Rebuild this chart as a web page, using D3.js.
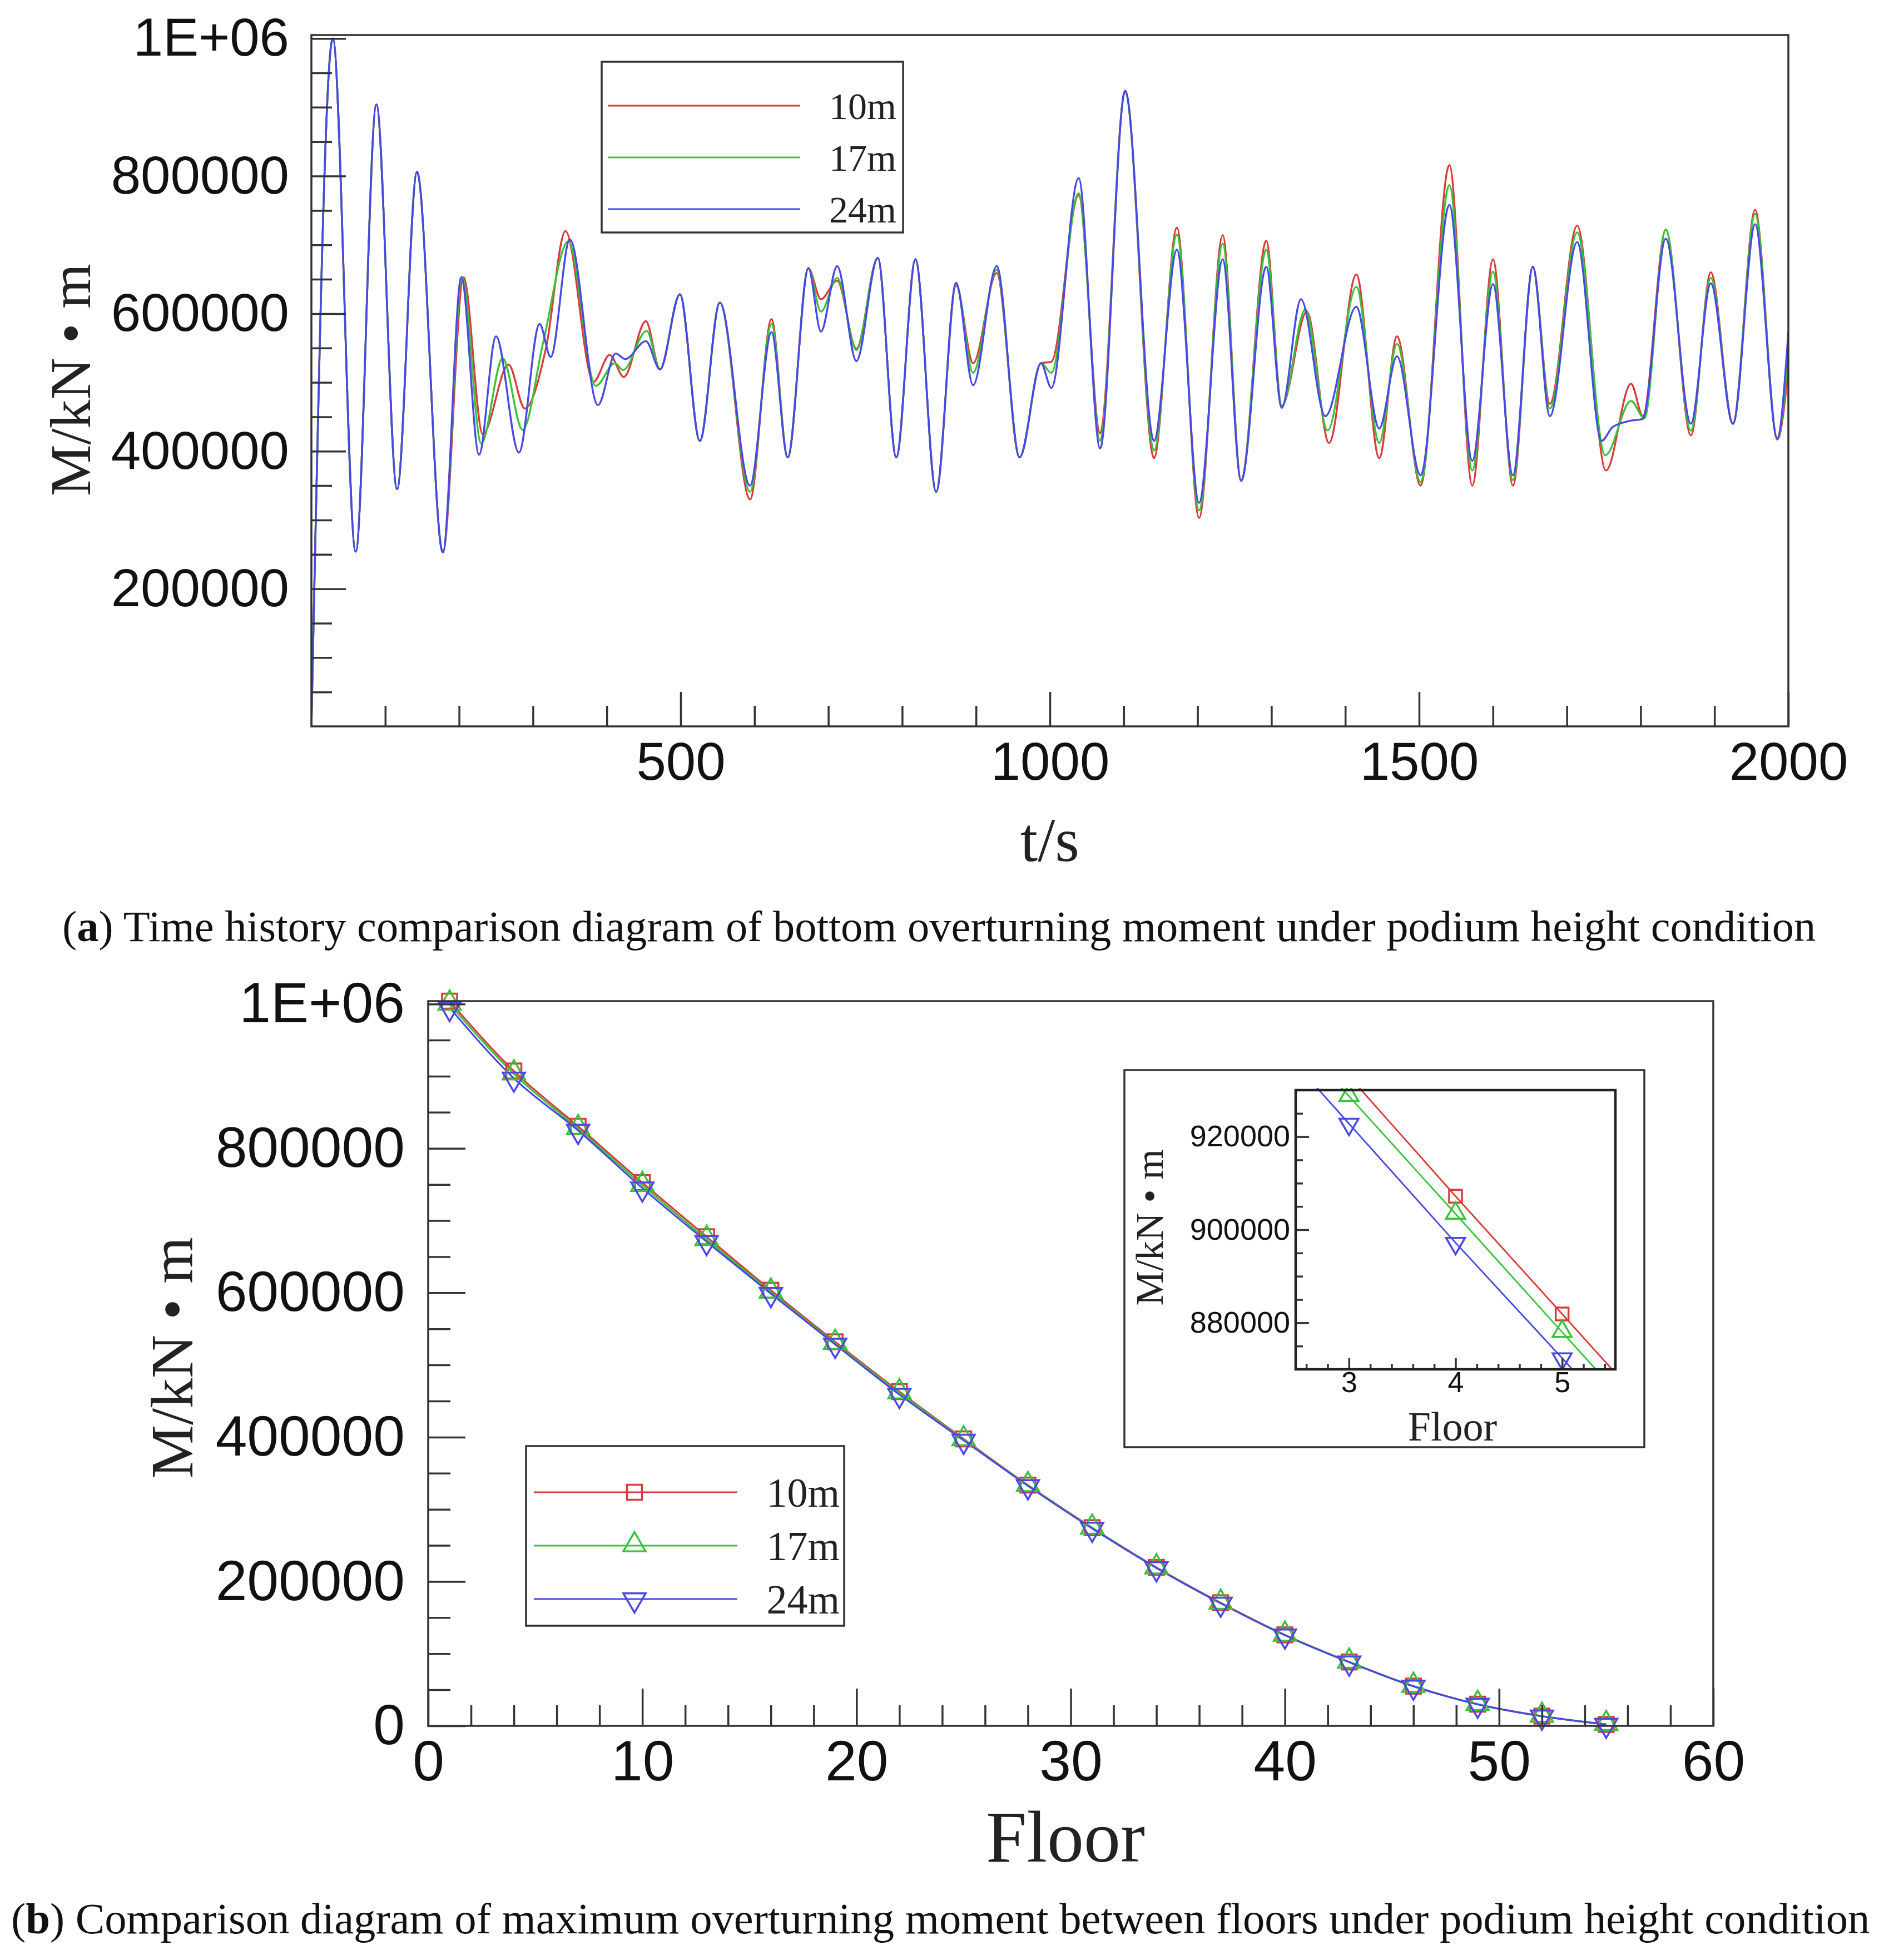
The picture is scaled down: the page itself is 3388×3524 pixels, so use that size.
<!DOCTYPE html>
<html>
<head>
<meta charset="utf-8">
<script src="https://cdn.jsdelivr.net/npm/d3@7"></script>
<style>body{margin:0;background:#fff}</style>
</head>
<body>
<script>
const W = 3388, H = 3524;

// ---- data: panel (a), time history extrema [t, M] ----
const hist10m = [[0,0],[29,1000000],[60,254000],[88,904000],[116,345000],[143,806000],[178,253000],[206,653000],
  [232,425000],[267,526000],[289,462000],[318,552000],[344,720000],[382,501000],[404,540000],[423,508000],[453,589000],[472,519000],[499,628000],
  [526,415000],[553,616000],[594,330000],[623,592000],[645,391000],[673,666000],[690,621000],[712,648000],[738,549000],
  [767,681000],[792,391000],[818,679000],[846,341000],[873,641000],[896,528000],[928,659000],[959,391000],[988,528000],[1002,530000],
  [1039,772000],[1068,426000],[1102,924000],[1141,390000],[1172,725000],[1202,303000],[1234,714000],[1259,357000],[1293,706000],[1314,466000],
  [1348,603000],[1378,412000],[1415,657000],[1446,390000],[1470,567000],[1502,350000],[1541,816000],[1572,350000],[1600,679000],[1627,350000],
  [1654,668000],[1677,469000],[1714,728000],[1753,372000],[1787,498000],[1803,451000],[1834,722000],[1868,423000],[1895,660000],[1925,440000],
  [1955,751000],[1985,417000],[2000,520000]];
const hist17m = [[0,0],[29,1000000],[60,254000],[88,904000],[116,345000],[143,806000],[178,253000],[204,653000],
  [230,411000],[259,535000],[286,431000],[314,559000],[348,705000],[385,495000],[411,528000],[422,518000],[454,575000],[472,519000],[499,628000],
  [526,415000],[553,616000],[594,341000],[623,585000],[645,391000],[673,666000],[690,603000],[712,652000],[738,547000],
  [767,681000],[792,391000],[818,679000],[846,341000],[873,643000],[896,514000],[928,664000],[959,391000],[988,528000],[1002,514000],
  [1039,775000],[1068,415000],[1102,924000],[1141,401000],[1172,715000],[1202,314000],[1234,702000],[1259,357000],[1293,693000],[1314,466000],
  [1346,606000],[1376,430000],[1415,639000],[1446,412000],[1470,556000],[1502,355000],[1541,787000],[1572,372000],[1600,661000],[1627,358000],
  [1654,668000],[1677,462000],[1714,718000],[1752,394000],[1787,473000],[1805,448000],[1834,722000],[1868,430000],[1895,652000],[1925,440000],
  [1955,745000],[1985,419000],[2000,545000]];
const hist24m = [[0,0],[29,1000000],[60,254000],[88,904000],[116,345000],[143,806000],[178,253000],[203,653000],
  [227,395000],[250,567000],[281,398000],[309,585000],[324,537000],[350,708000],[388,467000],[412,542000],[425,534000],[453,560000],[472,519000],[499,628000],
  [526,415000],[553,616000],[594,350000],[623,573000],[645,391000],[673,666000],[690,574000],[712,669000],[738,531000],
  [767,681000],[792,391000],[818,679000],[846,341000],[873,645000],[896,496000],[928,669000],[959,391000],[988,528000],[1002,492000],
  [1039,797000],[1068,404000],[1102,924000],[1141,415000],[1172,693000],[1202,325000],[1234,679000],[1259,357000],[1293,668000],[1314,463000],
  [1340,621000],[1373,451000],[1415,610000],[1446,433000],[1470,538000],[1502,365000],[1541,758000],[1572,386000],[1600,643000],[1627,365000],
  [1654,668000],[1677,451000],[1714,704000],[1747,415000],[1762,435000],[1785,444000],[1803,447000],[1834,709000],[1868,440000],[1895,644000],[1925,440000],
  [1955,730000],[1985,419000],[2000,574000]];

// ---- data: panel (b), max moment per floor ----
const floors = [1,4,7,10,13,16,19,22,25,28,31,34,37,40,43,46,49,52,55];
const moment10m = [1004000,907200,830600,752600,677600,603500,532000,463000,397500,333500,274500,219500,170500,126000,88500,55000,30000,13500,2000];
const moment17m = [1000000,903400,827500,749000,674000,601000,530000,461500,396500,333000,274000,219000,170000,125800,88300,54900,29900,13400,2000];
const moment24m = [995000,897200,824800,745000,670800,598700,528400,459000,395500,332500,273500,218800,169800,125600,88200,54800,29800,13300,2000];

// inset (floors 2..6)
const insetFloors = [2,3,4,5,6];
const inset10m = [958500,933000,907200,881900,856500];
const inset17m = [954000,928700,903400,878000,852700];
const inset24m = [948500,922800,897200,872400,847600];

const seriesNames = ['10m','17m','24m'];
const colors = ['#dc3a3a','#38c438','#4848e4'];
const markers = ['square','up','down'];

const axisColor = '#333';
const sansFont = 'Liberation Sans, Arial, sans-serif';
const serifFont = 'Liberation Serif, Times New Roman, serif';
const plain = d3.format('d');

const svg = d3.select('body').append('svg')
  .attr('width', W).attr('height', H)
  .style('background', '#fff');

function styleAxis(g, fontSize) {
  g.select('.domain').remove();
  g.selectAll('line').attr('stroke', axisColor).attr('stroke-width', 3.5);
  g.selectAll('text').attr('font-size', fontSize).attr('font-family', sansFont).attr('fill', '#111');
  g.attr('font-size', null).attr('font-family', null);
}

function marker(g, type, cx, cy, color, s) {
  if (type === 'square') {
    g.append('rect').attr('x', cx - s / 2).attr('y', cy - s / 2).attr('width', s).attr('height', s)
      .attr('fill', 'none').attr('stroke', color).attr('stroke-width', 3.5);
  } else {
    const sym = d3.symbol().type(d3.symbolTriangle).size(s * s * 0.95);
    g.append('path').attr('d', sym())
      .attr('transform', `translate(${cx},${cy + (type === 'up' ? -1 : 1) * s * 0.05}) rotate(${type === 'up' ? 0 : 180})`)
      .attr('fill', 'none').attr('stroke', color).attr('stroke-width', 3.5);
  }
}

// caption sized to span a given width
function caption(x, y, letter, rest, width) {
  const t = svg.append('text').attr('x', x).attr('y', y)
    .attr('font-family', serifFont).attr('font-size', 80).attr('fill', '#111');
  t.append('tspan').text('(');
  t.append('tspan').attr('font-weight', 'bold').text(letter);
  t.append('tspan').text(') ' + rest);
  const len = t.node().getComputedTextLength();
  t.attr('font-size', 80 * width / len);
}

// =================== panel (a) ===================
const A = { left: 560, right: 3216, top: 63, bottom: 1306 };
const xA = d3.scaleLinear().domain([0, 2000]).range([A.left, A.right]);
const yA = d3.scaleLinear().domain([0, 1005000]).range([A.bottom, A.top]);

svg.append('clipPath').attr('id', 'clipA').append('rect')
  .attr('x', A.left).attr('y', A.top).attr('width', A.right - A.left).attr('height', A.bottom - A.top);

const lineA = d3.line().x(d => xA(d[0])).y(d => yA(d[1])).curve(d3.curveMonotoneX);
const gA = svg.append('g').attr('clip-path', 'url(#clipA)');
[hist10m, hist17m, hist24m].forEach((s, i) => {
  gA.append('path').attr('d', lineA(s)).attr('fill', 'none')
    .attr('stroke', colors[i]).attr('stroke-width', 3.4);
});

// y axis (ticks inward)
svg.append('g').attr('transform', `translate(${A.left},0)`)
  .call(d3.axisLeft(yA).tickValues(d3.range(50000, 1000001, 50000).filter(v => v % 200000 !== 0)).tickSize(-37).tickFormat(''))
  .call(g => styleAxis(g, 96));
svg.append('g').attr('transform', `translate(${A.left},0)`)
  .call(d3.axisLeft(yA).tickValues([200000, 400000, 600000, 800000, 1000000]).tickSize(-62).tickPadding(40)
    .tickFormat(d => d === 1000000 ? '1E+06' : plain(d)))
  .call(g => styleAxis(g, 96));
// x axis
svg.append('g').attr('transform', `translate(0,${A.bottom})`)
  .call(d3.axisBottom(xA).tickValues(d3.range(100, 2000, 100).filter(v => v % 500 !== 0)).tickSize(-37).tickFormat(''))
  .call(g => styleAxis(g, 96));
svg.append('g').attr('transform', `translate(0,${A.bottom})`)
  .call(d3.axisBottom(xA).tickValues([500, 1000, 1500, 2000]).tickSize(-62).tickPadding(28).tickFormat(plain))
  .call(g => styleAxis(g, 96));

svg.append('rect').attr('x', A.left).attr('y', A.top).attr('width', A.right - A.left).attr('height', A.bottom - A.top)
  .attr('fill', 'none').attr('stroke', axisColor).attr('stroke-width', 3.5);

svg.append('text').attr('transform', `translate(126,683) rotate(-90)`)
  .attr('text-anchor', 'middle').attr('dominant-baseline', 'central')
  .attr('font-family', serifFont).attr('font-size', 104).attr('fill', '#222').text('M/kN • m');
svg.append('text').attr('x', 1888).attr('y', 1548).attr('text-anchor', 'middle')
  .attr('font-family', serifFont).attr('font-size', 112).attr('fill', '#222').text('t/s');

// legend (a)
const legA = svg.append('g');
legA.append('rect').attr('x', 1082).attr('y', 111).attr('width', 542).attr('height', 307)
  .attr('fill', '#fff').attr('stroke', axisColor).attr('stroke-width', 3.5);
seriesNames.forEach((n, i) => {
  const yy = 190 + i * 93;
  legA.append('line').attr('x1', 1093).attr('x2', 1439).attr('y1', yy).attr('y2', yy)
    .attr('stroke', colors[i]).attr('stroke-width', 3.2);
  legA.append('text').attr('x', 1612).attr('y', yy).attr('dy', '0.35em').attr('text-anchor', 'end')
    .attr('font-family', serifFont).attr('font-size', 68).attr('fill', '#222').text(n);
});

caption(112, 1692, 'a', 'Time history comparison diagram of bottom overturning moment under podium height condition', 3154);

// =================== panel (b) ===================
const B = { left: 770, right: 3081, top: 1800, bottom: 3103 };
const xB = d3.scaleLinear().domain([0, 60]).range([B.left, B.right]);
const yB = d3.scaleLinear().domain([0, 1004000]).range([B.bottom, B.top]);

const lineB = d3.line().x(d => xB(d[0])).y(d => yB(d[1])).curve(d3.curveMonotoneX);
const gB = svg.append('g');
[moment10m, moment17m, moment24m].forEach((vals, i) => {
  const pts = floors.map((f, j) => [f, vals[j]]);
  gB.append('path').attr('d', lineB(pts)).attr('fill', 'none')
    .attr('stroke', colors[i]).attr('stroke-width', 3.2);
});
[moment10m, moment17m, moment24m].forEach((vals, i) => {
  floors.forEach((f, j) => marker(gB, markers[i], xB(f), yB(vals[j]), colors[i], 27));
});

svg.append('g').attr('transform', `translate(${B.left},0)`)
  .call(d3.axisLeft(yB).tickValues(d3.range(50000, 1000001, 50000).filter(v => v % 200000 !== 0)).tickSize(-40).tickFormat(''))
  .call(g => styleAxis(g, 102));
svg.append('g').attr('transform', `translate(${B.left},0)`)
  .call(d3.axisLeft(yB).tickValues([0, 200000, 400000, 600000, 800000, 1000000]).tickSize(-67).tickPadding(42)
    .tickFormat(d => d === 1000000 ? '1E+06' : plain(d)))
  .call(g => styleAxis(g, 102));
svg.append('g').attr('transform', `translate(0,${B.bottom})`)
  .call(d3.axisBottom(xB).tickValues(d3.range(2, 60, 2).filter(v => v % 10 !== 0)).tickSize(-37).tickFormat(''))
  .call(g => styleAxis(g, 102));
svg.append('g').attr('transform', `translate(0,${B.bottom})`)
  .call(d3.axisBottom(xB).tickValues([0, 10, 20, 30, 40, 50, 60]).tickSize(-67).tickPadding(26).tickFormat(plain))
  .call(g => styleAxis(g, 102));

svg.append('rect').attr('x', B.left).attr('y', B.top).attr('width', B.right - B.left).attr('height', B.bottom - B.top)
  .attr('fill', 'none').attr('stroke', axisColor).attr('stroke-width', 3.5);

svg.append('text').attr('transform', `translate(309,2441) rotate(-90)`)
  .attr('text-anchor', 'middle').attr('dominant-baseline', 'central')
  .attr('font-family', serifFont).attr('font-size', 108).attr('fill', '#222').text('M/kN • m');
svg.append('text').attr('x', 1916).attr('y', 3347).attr('text-anchor', 'middle')
  .attr('font-family', serifFont).attr('font-size', 132).attr('fill', '#222').text('Floor');

// legend (b)
const legB = svg.append('g');
legB.append('rect').attr('x', 946).attr('y', 2600).attr('width', 572).attr('height', 323)
  .attr('fill', '#fff').attr('stroke', axisColor).attr('stroke-width', 3.5);
seriesNames.forEach((n, i) => {
  const yy = 2683 + i * 96;
  legB.append('line').attr('x1', 960).attr('x2', 1326).attr('y1', yy).attr('y2', yy)
    .attr('stroke', colors[i]).attr('stroke-width', 3.2);
  marker(legB, markers[i], 1141, yy, colors[i], 27);
  legB.append('text').attr('x', 1510).attr('y', yy).attr('dy', '0.35em').attr('text-anchor', 'end')
    .attr('font-family', serifFont).attr('font-size', 74).attr('fill', '#222').text(n);
});

// inset
const I = { left: 2330, right: 2905, top: 1960, bottom: 2462 };
svg.append('rect').attr('x', 2022).attr('y', 1924).attr('width', 935).attr('height', 678)
  .attr('fill', '#fff').attr('stroke', axisColor).attr('stroke-width', 3.5);
const xI = d3.scaleLinear().domain([2.5, 5.5]).range([I.left, I.right]);
const yI = d3.scaleLinear().domain([870000, 930000]).range([I.bottom, I.top]);

svg.append('clipPath').attr('id', 'clipI').append('rect')
  .attr('x', I.left).attr('y', I.top - 4).attr('width', I.right - I.left).attr('height', I.bottom - I.top + 4);
const lineI = d3.line().x(d => xI(d[0])).y(d => yI(d[1]));
const gI = svg.append('g').attr('clip-path', 'url(#clipI)');
[inset10m, inset17m, inset24m].forEach((vals, i) => {
  const pts = insetFloors.map((f, j) => [f, vals[j]]);
  gI.append('path').attr('d', lineI(pts)).attr('fill', 'none')
    .attr('stroke', colors[i]).attr('stroke-width', 2.8);
  insetFloors.forEach((f, j) => marker(gI, markers[i], xI(f), yI(vals[j]), colors[i], 23));
});

svg.append('g').attr('transform', `translate(${I.left},0)`)
  .call(d3.axisLeft(yI).tickValues(d3.range(875000, 930000, 5000).filter(v => v % 20000 !== 0)).tickSize(-13).tickFormat(''))
  .call(g => styleAxis(g, 54));
svg.append('g').attr('transform', `translate(${I.left},0)`)
  .call(d3.axisLeft(yI).tickValues([880000, 900000, 920000]).tickSize(-24).tickPadding(10).tickFormat(plain))
  .call(g => styleAxis(g, 54));
svg.append('g').attr('transform', `translate(0,${I.bottom})`)
  .call(d3.axisBottom(xI).tickValues(d3.range(2.6, 5.5, 0.2).filter(v => Math.abs(v - Math.round(v)) > 0.05)).tickSize(-10).tickFormat(''))
  .call(g => styleAxis(g, 54));
svg.append('g').attr('transform', `translate(0,${I.bottom})`)
  .call(d3.axisBottom(xI).tickValues([3, 4, 5]).tickSize(-20).tickPadding(4).tickFormat(plain))
  .call(g => styleAxis(g, 52));

svg.append('rect').attr('x', I.left).attr('y', I.top).attr('width', I.right - I.left).attr('height', I.bottom - I.top)
  .attr('fill', 'none').attr('stroke', '#222').attr('stroke-width', 4.5);

svg.append('text').attr('transform', `translate(2067,2207) rotate(-90)`)
  .attr('text-anchor', 'middle').attr('dominant-baseline', 'central')
  .attr('font-family', serifFont).attr('font-size', 70).attr('fill', '#222').text('M/kN • m');
svg.append('text').attr('x', 2612).attr('y', 2590).attr('text-anchor', 'middle')
  .attr('font-family', serifFont).attr('font-size', 74).attr('fill', '#222').text('Floor');

caption(20, 3476, 'b', 'Comparison diagram of maximum overturning moment between floors under podium height condition', 3343);
</script>
</body>
</html>
